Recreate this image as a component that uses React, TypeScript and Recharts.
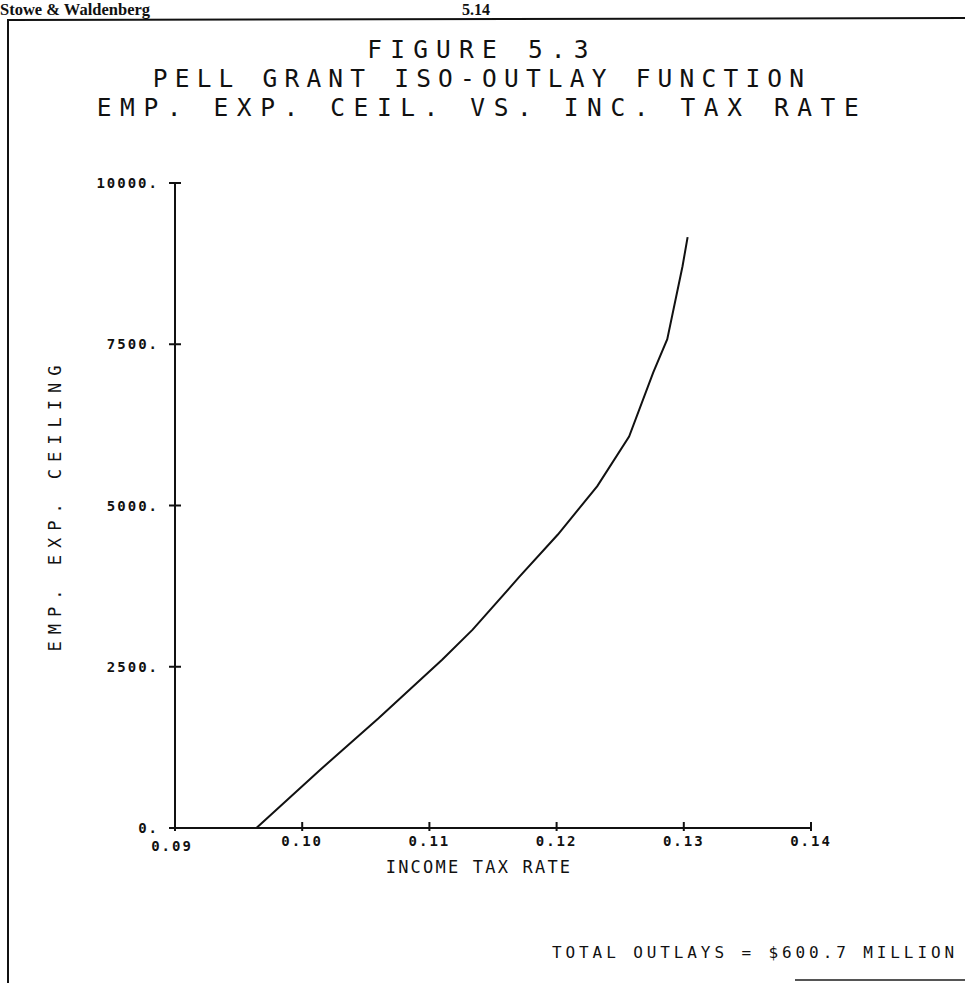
import { CartesianGrid, Line, LineChart, XAxis, YAxis } from "recharts";

// iso-outlay curve
const taxRate = [0.0964, 0.1014, 0.106, 0.111, 0.1134, 0.1171, 0.1201, 0.1232, 0.1257, 0.1276, 0.1287, 0.1299, 0.1303];
const ceiling = [0, 900, 1700, 2610, 3075, 3900, 4550, 5300, 6070, 7065, 7580, 8710, 9160];

const xTicks = [0.09, 0.1, 0.11, 0.12, 0.13, 0.14];
const yTicks = [0, 2500, 5000, 7500, 10000];

const titleLines = ["FIGURE 5.3", "PELL GRANT ISO-OUTLAY FUNCTION", "EMP. EXP. CEIL. VS. INC. TAX RATE"];
// plotter font spacing differs a little from line to line
const titleSpacing = [8.2, 7.2, 8.6];

const data = taxRate.map((t, i) => ({ t, c: ceiling[i] }));

const MONO = '"DejaVu Sans Mono", monospace';
const SERIF = '"Liberation Serif", "DejaVu Serif", serif';
const INK = "#111";

function YTick(props: any) {
  const { x, y, payload } = props;
  return (
    <g>
      <line x1={x - 6} x2={x + 6} y1={y} y2={y} stroke={INK} strokeWidth={2} />
      <text
        x={x - 16}
        y={y}
        dy={5}
        textAnchor="end"
        fontFamily={MONO}
        fontWeight="bold"
        fontSize={14}
        letterSpacing={2}
        fill={INK}
      >
        {payload.value}.
      </text>
    </g>
  );
}

function XTick(props: any) {
  const { x, y, payload } = props;
  const first = payload.value === 0.09;
  return (
    <g>
      <line x1={x} x2={x} y1={y - 6} y2={y + 3} stroke={INK} strokeWidth={2} />
      <text
        x={first ? x - 3 : x}
        y={y + (first ? 23 : 18)}
        textAnchor="middle"
        fontFamily={MONO}
        fontWeight="bold"
        fontSize={14}
        letterSpacing={2}
        fill={INK}
      >
        {Number(payload.value).toFixed(2)}
      </text>
    </g>
  );
}

export default function App() {
  return (
    <div style={{ position: "absolute", left: 0, top: 0, width: 965, height: 983, background: "#fff", overflow: "hidden" }}>
      <LineChart
        width={965}
        height={983}
        data={data}
        margin={{ top: 183, right: 154, bottom: 125, left: 115 }}
        style={{ position: "absolute", left: 0, top: 0 }}
      >
        <CartesianGrid stroke="none" fill="none" />
        <XAxis
          type="number"
          dataKey="t"
          domain={[0.09, 0.14]}
          ticks={xTicks}
          height={30}
          axisLine={{ stroke: INK, strokeWidth: 2 }}
          tickLine={false}
          tickSize={0}
          tickMargin={0}
          tick={<XTick />}
          interval={0}
        />
        <YAxis
          type="number"
          dataKey="c"
          domain={[0, 10000]}
          ticks={yTicks}
          width={60}
          axisLine={{ stroke: INK, strokeWidth: 2 }}
          tickLine={false}
          tickSize={0}
          tickMargin={0}
          tick={<YTick />}
          interval={0}
        />
        <Line
          type="linear"
          dataKey="c"
          stroke={INK}
          strokeWidth={2}
          dot={false}
          isAnimationActive={false}
        />
      </LineChart>

      <svg width={965} height={983} style={{ position: "absolute", left: 0, top: 0, pointerEvents: "none" }}>
        {/* page header and frame */}
        <text x={0} y={15} fontFamily={SERIF} fontWeight="bold" fontSize={16.5} fill={INK}>
          Stowe &amp; Waldenberg
        </text>
        <text x={462} y={15} fontFamily={SERIF} fontWeight="bold" fontSize={16} fill={INK}>
          5.14
        </text>
        <line x1={8} x2={965} y1={20} y2={18} stroke={INK} strokeWidth={2} />
        <line x1={8} x2={8} y1={19} y2={983} stroke={INK} strokeWidth={2} />
        <line x1={795} x2={965} y1={980} y2={980} stroke="#555" strokeWidth={2} />

        {titleLines.map((s, i) => (
          <text
            key={s}
            x={482}
            y={58 + i * 29}
            textAnchor="middle"
            fontFamily={MONO}
            fontSize={24.5}
            letterSpacing={titleSpacing[i]}
            fill={INK}
          >
            {s}
          </text>
        ))}

        <text
          x={61}
          y={505}
          transform="rotate(-90, 61, 505)"
          textAnchor="middle"
          fontFamily={MONO}
          fontSize={17}
          letterSpacing={7}
          fill={INK}
        >
          EMP. EXP. CEILING
        </text>
        <text x={479} y={873} textAnchor="middle" fontFamily={MONO} fontSize={17} letterSpacing={2.2} fill={INK}>
          INCOME TAX RATE
        </text>
        <text x={552} y={958} fontFamily={MONO} fontSize={16} letterSpacing={3.9} fill={INK}>
          TOTAL OUTLAYS = $600.7 MILLION
        </text>
      </svg>
    </div>
  );
}
